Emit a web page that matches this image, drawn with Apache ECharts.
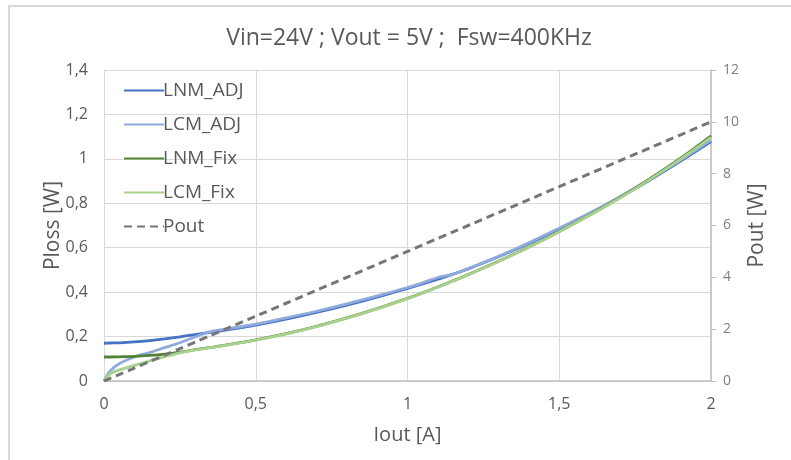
<!DOCTYPE html>
<html>
<head>
<meta charset="utf-8">
<script src="https://cdn.jsdelivr.net/npm/echarts@6/dist/echarts.min.js"></script>
<style>
  html, body { margin: 0; padding: 0; background: #ffffff; }
  #chart { width: 791px; height: 460px; }
</style>
</head>
<body>
<div id="chart"></div>
<script>
// Output current [A]
const iout = [0, 0.02, 0.05, 0.1, 0.15, 0.2, 0.25, 0.3, 0.35, 0.4, 0.5, 0.6, 0.7, 0.8, 0.9, 1.0,
              1.05, 1.1, 1.15, 1.2, 1.3, 1.4, 1.5, 1.6, 1.7, 1.8, 1.9, 2.0];

// Power loss [W]
const lnmAdj = [0.170, 0.171, 0.172, 0.176, 0.182, 0.190, 0.199, 0.209, 0.219, 0.229, 0.252, 0.279, 0.309, 0.342, 0.378, 0.417,
                0.437, 0.458, 0.481, 0.505, 0.559, 0.619, 0.684, 0.752, 0.827, 0.906, 0.990, 1.078];
const lcmAdj = [0.000, 0.045, 0.078, 0.108, 0.128, 0.150, 0.172, 0.198, 0.222, 0.233, 0.256, 0.284, 0.314, 0.347, 0.383, 0.421,
                0.442, 0.466, 0.480, 0.506, 0.561, 0.622, 0.688, 0.756, 0.830, 0.910, 0.994, 1.084];
const lnmFix = [0.108, 0.108, 0.109, 0.111, 0.115, 0.121, 0.130, 0.141, 0.151, 0.161, 0.185, 0.213, 0.246, 0.284, 0.326, 0.372,
                0.397, 0.423, 0.451, 0.479, 0.539, 0.603, 0.673, 0.747, 0.826, 0.912, 1.003, 1.104];
const lcmFix = [0.000, 0.032, 0.050, 0.070, 0.090, 0.110, 0.127, 0.140, 0.150, 0.160, 0.184, 0.212, 0.245, 0.283, 0.325, 0.371,
                0.396, 0.422, 0.450, 0.478, 0.538, 0.602, 0.672, 0.746, 0.824, 0.909, 0.999, 1.097];

// Output power [W]
const pout = [0, 0.1, 0.25, 0.5, 0.75, 1.0, 1.25, 1.5, 1.75, 2.0, 2.5, 3.0, 3.5, 4.0, 4.5, 5.0,
              5.25, 5.5, 5.75, 6.0, 6.5, 7.0, 7.5, 8.0, 8.5, 9.0, 9.5, 10.0];

const seriesNames = ['LNM_ADJ', 'LCM_ADJ', 'LNM_Fix', 'LCM_Fix', 'Pout'];
const seriesColors = ['#4472C4', '#8FAADC', '#548235', '#A9D18E', '#767676'];

const FONT = '"Open Sans", "Noto Sans", sans-serif';
const TEXT = '#595959';

const pairs = ys => iout.map((x, i) => [x, ys[i]]);
const comma = v => String(v).replace('.', ',');

function lineSeries(idx, ys, yAxisIndex, dashed) {
  return {
    name: seriesNames[idx],
    type: 'line',
    yAxisIndex: yAxisIndex,
    data: pairs(ys),
    smooth: 0.3,
    showSymbol: false,
    symbol: 'none',
    color: seriesColors[idx],
    lineStyle: {
      color: seriesColors[idx],
      width: dashed ? 3 : 2.8,
      type: dashed ? [8, 5] : 'solid'
    },
    emphasis: { disabled: true },
    animation: false
  };
}

const chart = echarts.init(document.getElementById('chart'), null, { renderer: 'canvas' });

chart.setOption({
  backgroundColor: '#ffffff',
  animation: false,
  title: {
    text: 'Vin=24V ; Vout = 5V ;  Fsw=400KHz',
    left: 404,
    textAlign: 'center',
    top: 22,
    textStyle: { fontFamily: FONT, fontSize: 23, fontWeight: 'normal', color: TEXT }
  },
  graphic: [
    {
      type: 'polyline',
      shape: { points: [[9, 470], [9, 6], [800, 6]] },
      style: { stroke: '#D9D9D9', lineWidth: 2, fill: null },
      silent: true
    }
  ],
  legend: {
    orient: 'vertical',
    left: 118,
    top: 76,
    itemWidth: 40,
    itemHeight: 14,
    itemGap: 15,
    data: seriesNames,
    itemStyle: { opacity: 0 },
    textStyle: { fontFamily: FONT, fontSize: 19, lineHeight: 19, color: TEXT, padding: [0, 0, 0, -6] }
  },
  grid: { left: 104, right: 80, top: 70, bottom: 79, containLabel: false },
  xAxis: {
    type: 'value',
    min: 0, max: 2, interval: 0.5,
    name: 'Iout [A]',
    nameLocation: 'middle',
    nameGap: 44,
    nameMoveOverlap: false,
    nameTextStyle: { fontFamily: FONT, fontSize: 20, color: TEXT },
    axisLine: { show: true, lineStyle: { color: '#BFBFBF', width: 1.5 } },
    axisTick: { show: false },
    splitLine: { show: true, lineStyle: { color: '#D9D9D9', width: 1 } },
    axisLabel: { fontFamily: FONT, fontSize: 16, color: TEXT, margin: 15, formatter: comma }
  },
  yAxis: [
    {
      type: 'value',
      min: 0, max: 1.4, interval: 0.2,
      name: 'Ploss [W]',
      nameLocation: 'middle',
      nameGap: 40,
      nameMoveOverlap: false,
      nameRotate: 90,
      nameTextStyle: { fontFamily: FONT, fontSize: 21, color: TEXT },
      axisLine: { show: false },
      axisTick: { show: false },
      splitLine: { show: true, lineStyle: { color: '#D9D9D9', width: 1 } },
      axisLabel: { fontFamily: FONT, fontSize: 16, color: TEXT, margin: 16, formatter: comma }
    },
    {
      type: 'value',
      min: 0, max: 12, interval: 2,
      name: 'Pout [W]',
      nameLocation: 'middle',
      nameGap: 36,
      nameMoveOverlap: false,
      nameRotate: 90,
      nameTextStyle: { fontFamily: FONT, fontSize: 21, color: TEXT },
      axisLine: { show: true, lineStyle: { color: '#BFBFBF', width: 1.5 } },
      axisTick: { show: true, inside: false, length: 5, lineStyle: { color: '#BFBFBF' } },
      splitLine: { show: false },
      axisLabel: { fontFamily: FONT, fontSize: 14, color: '#7F7F7F', margin: 12, formatter: comma }
    }
  ],
  // drawn in legend order: later series sit on top
  series: [
    lineSeries(0, lnmAdj, 0, false),
    lineSeries(1, lcmAdj, 0, false),
    lineSeries(2, lnmFix, 0, false),
    lineSeries(3, lcmFix, 0, false),
    lineSeries(4, pout, 1, true)
  ]
});
</script>
</body>
</html>
